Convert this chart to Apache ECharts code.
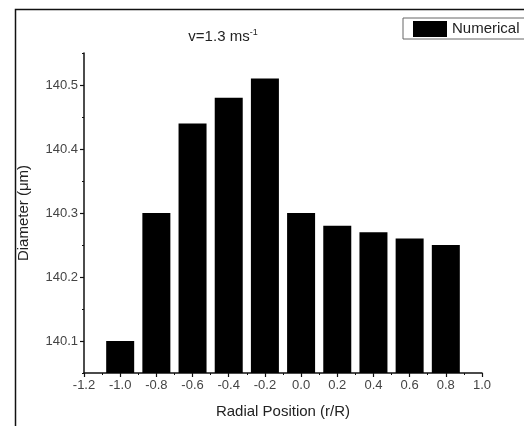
<!DOCTYPE html>
<html>
<head>
<meta charset="utf-8">
<script src="https://cdn.jsdelivr.net/npm/echarts@6/dist/echarts.min.js"></script>
<style>
html,body{margin:0;padding:0;background:#fff;}
#chart{width:524px;height:426px;}
</style>
</head>
<body>
<div id="chart"></div>
<script>
// radial position vs diameter
var positions = [-1.0, -0.8, -0.6, -0.4, -0.2, 0.0, 0.2, 0.4, 0.6, 0.8];
var diameters = [140.10, 140.30, 140.44, 140.48, 140.51, 140.30, 140.28, 140.27, 140.26, 140.25];
var yLabels = [140.1, 140.2, 140.3, 140.4, 140.5];

var pts = [];
for (var i = 0; i < positions.length; i++) {
  pts.push([positions[i], diameters[i]]);
}

var font = 'Liberation Sans, Arial, sans-serif';
var myChart = echarts.init(document.getElementById('chart'));
var option = {
  animation: false,
  textStyle: {fontFamily: font},
  graphic: [
    {type: 'rect', left: 13, top: 7, shape: {width: 530, height: 440},
     style: {fill: 'none', stroke: '#111', lineWidth: 1.5}, z: 100}
  ],
  title: {
    text: 'v=1.3 ms{s|-1}',
    left: 218, top: 23, textAlign: 'center',
    textStyle: {fontSize: 15, fontWeight: 'normal', color: '#222', fontFamily: font,
      rich: {s: {fontSize: 9, verticalAlign: 'top', padding: [0, 0, 9, 0], color: '#222'}}}
  },
  legend: {
    data: ['Numerical'],
    icon: 'rect',
    left: 403, top: 18,
    itemWidth: 34, itemHeight: 16, itemGap: 4,
    padding: [3, 10, 2, 10],
    borderColor: '#666', borderWidth: 1,
    textStyle: {fontSize: 15, color: '#222', fontFamily: font}
  },
  grid: {left: 84, right: 42, top: 53, bottom: 53},
  xAxis: {
    type: 'value', min: -1.2, max: 1.0, interval: 0.2,
    name: 'Radial Position (r/R)', nameLocation: 'middle', nameGap: 31,
    nameTextStyle: {fontSize: 15, color: '#222', fontFamily: font},
    axisLine: {onZero: false, lineStyle: {color: '#111', width: 1.5}},
    axisTick: {length: 4, lineStyle: {color: '#111', width: 1.2}},
    minorTick: {show: true, splitNumber: 2, length: 2, lineStyle: {color: '#111'}},
    splitLine: {show: false},
    axisLabel: {fontSize: 13, color: '#444', margin: 6,
      formatter: function (v) { return v.toFixed(1); }}
  },
  yAxis: [
    {
      type: 'value', min: 140.05, max: 140.55,
      name: 'Diameter (\u03bcm)', nameLocation: 'middle', nameGap: 53,
      nameTextStyle: {fontSize: 15, color: '#222', fontFamily: font},
      axisLine: {show: true, onZero: false, lineStyle: {color: '#111', width: 1.5}},
      axisTick: {show: true, length: 4, customValues: yLabels, lineStyle: {color: '#111', width: 1.2}},
      splitLine: {show: false},
      axisLabel: {fontSize: 13, color: '#444', margin: 6, customValues: yLabels,
        formatter: function (v) { return v.toFixed(1); }}
    },
    {
      type: 'value', min: 140.05, max: 140.55, interval: 0.05, position: 'left',
      axisLine: {show: false, onZero: false},
      axisTick: {show: true, length: 2, lineStyle: {color: '#111'}},
      axisLabel: {show: false},
      splitLine: {show: false}
    }
  ],
  series: [
    {
      name: 'Numerical', type: 'bar', data: pts,
      barWidth: 28,
      itemStyle: {color: '#000'}
    }
  ]
};
myChart.setOption(option);
</script>
</body>
</html>
